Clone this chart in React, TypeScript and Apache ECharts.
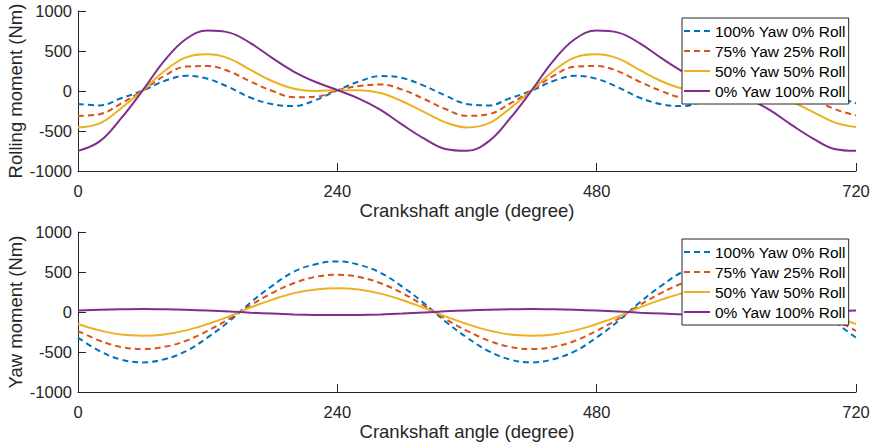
import React, { useEffect, useRef } from "react";
import * as echarts from "echarts";

// Crankshaft angle (degree), sampled every 20 degrees
const angles = [
  0, 20, 40, 60, 80, 100, 120, 140, 160, 180, 200, 220, 240, 260, 280, 300, 320, 340, 360,
  380, 400, 420, 440, 460, 480, 500, 520, 540, 560, 580, 600, 620, 640, 660, 680, 700, 720,
];

const seriesNames = ["100% Yaw 0% Roll", "75% Yaw 25% Roll", "50% Yaw 50% Roll", "0% Yaw 100% Roll"];

// Rolling moment (Nm)
const rollYaw100 = [
  -162, -180, -90, 5, 125, 190, 152, 45, -85, -165, -188, -112, 8, 118, 186, 163, 68, -58, -162,
  -180, -90, 5, 125, 190, 152, 45, -85, -165, -188, -112, 8, 118, 186, 163, 68, -58, -155,
];
const rollYaw75 = [
  -310, -290, -155, 7, 190, 305, 312, 245, 115, 0, -78, -72, 8, 62, 81, 17, -98, -225, -310,
  -290, -155, 7, 190, 305, 312, 245, 115, 0, -78, -72, 8, 62, 81, 17, -98, -225, -305,
];
const rollYaw50 = [
  -455, -405, -215, 8, 250, 420, 458, 405, 260, 122, 28, 0, 10, 10, -25, -128, -260, -392, -455,
  -405, -215, 8, 250, 420, 458, 405, 260, 122, 28, 0, 10, 10, -25, -128, -260, -392, -450,
];
const rollYaw0 = [
  -748, -630, -340, 10, 380, 650, 755, 730, 595, 410, 240, 112, 12, -95, -235, -420, -592, -725, -748,
  -630, -340, 10, 380, 650, 755, 730, 595, 410, 240, 112, 12, -95, -235, -420, -592, -725, -748,
];

// Yaw moment (Nm)
const yawYaw100 = [
  -320, -488, -595, -630, -590, -490, -318, -115, 122, 330, 505, 598, 632, 590, 490, 318, 112, -118, -320,
  -488, -595, -630, -590, -490, -318, -115, 122, 330, 505, 598, 632, 590, 490, 318, 112, -118, -320,
];
const yawYaw75 = [
  -235, -358, -437, -463, -436, -360, -235, -85, 88, 240, 362, 440, 465, 438, 360, 236, 82, -86, -235,
  -358, -437, -463, -436, -360, -235, -85, 88, 240, 362, 440, 465, 438, 360, 236, 82, -86, -235,
];
const yawYaw50 = [
  -150, -230, -282, -296, -280, -230, -150, -55, 58, 155, 236, 282, 298, 280, 230, 150, 52, -55, -150,
  -230, -282, -296, -280, -230, -150, -55, 58, 155, 236, 282, 298, 280, 230, 150, 52, -55, -150,
];
const yawYaw0 = [
  20, 28, 35, 38, 35, 28, 18, 6, -8, -20, -30, -36, -38, -36, -30, -20, -6, 8, 20,
  28, 35, 38, 35, 28, 18, 6, -8, -20, -30, -36, -38, -36, -30, -20, -6, 8, 20,
];

const xTickInterval = 240;
const yTickInterval = 500;

const FONT = "'Liberation Sans', Arial, Helvetica, sans-serif";
const AXIS_COLOR = "#262626";
const colors = ["#0072BD", "#D95319", "#EDB120", "#7E2F8E"];
const dashed = [true, true, false, false];

function pairs(values: number[]) {
  return angles.map((a, i) => [a, values[i]]);
}

export default function App() {
  const ref = useRef<HTMLDivElement>(null);

  useEffect(() => {
    if (!ref.current) return;
    const chart = echarts.init(ref.current, null, { renderer: "svg" });

    const grids = [
      { left: 78, top: 11, width: 778, height: 160, outerBoundsMode: "none", containLabel: false },
      { left: 78, top: 232, width: 778, height: 160, outerBoundsMode: "none", containLabel: false },
    ];

    const xAxisBase = (gridIndex: number) => ({
      type: "value",
      gridIndex,
      min: 0,
      max: 720,
      interval: xTickInterval,
      name: "Crankshaft angle (degree)",
      nameLocation: "middle",
      nameGap: 30,
      nameTextStyle: { fontSize: 18.5, color: AXIS_COLOR, fontFamily: FONT },
      axisLine: { onZero: false, lineStyle: { color: AXIS_COLOR, width: 1 } },
      axisTick: { inside: true, length: 8, lineStyle: { color: AXIS_COLOR } },
      axisLabel: { fontSize: 16.5, color: AXIS_COLOR, fontFamily: FONT, margin: 11 },
      splitLine: { show: false },
    });

    const yAxisBase = (gridIndex: number, name: string) => ({
      type: "value",
      gridIndex,
      min: -1000,
      max: 1000,
      interval: yTickInterval,
      name,
      nameLocation: "middle",
      nameGap: 53,
      nameMoveOverlap: false,
      nameTextStyle: { fontSize: 18.5, color: AXIS_COLOR, fontFamily: FONT },
      axisLine: { onZero: false, lineStyle: { color: AXIS_COLOR, width: 1 } },
      axisTick: { inside: true, length: 8, lineStyle: { color: AXIS_COLOR } },
      axisLabel: {
        fontSize: 16.5,
        color: AXIS_COLOR,
        fontFamily: FONT,
        margin: 6,
        formatter: (v: number) => String(v),
      },
      splitLine: { show: false },
    });

    const topData = [rollYaw100, rollYaw75, rollYaw50, rollYaw0];
    const bottomData = [yawYaw100, yawYaw75, yawYaw50, yawYaw0];

    const makeSeries = (data: number[][], idx: number) =>
      data.map((vals, i) => ({
        type: "line",
        name: seriesNames[i],
        xAxisIndex: idx,
        yAxisIndex: idx,
        data: pairs(vals),
        smooth: 0.4,
        symbol: "none",
        showSymbol: false,
        lineStyle: {
          color: colors[i],
          width: 2,
          type: dashed[i] ? [6, 4] : "solid",
        },
        itemStyle: { color: colors[i] },
        z: 2 + i,
      }));

    const legendBase = (top: number) => ({
      orient: "vertical",
      left: 682,
      top,
      data: seriesNames,
      itemWidth: 26,
      itemHeight: 14,
      itemGap: 4,
      padding: [5, 3, 5, 1],
      borderColor: AXIS_COLOR,
      borderWidth: 1,
      backgroundColor: "#ffffff",
      selectedMode: false,
      itemStyle: { color: "rgba(0,0,0,0)", borderWidth: 0, opacity: 0 },
      textStyle: { fontSize: 15.5, color: "#000", fontFamily: FONT },
      z: 10,
    });

    chart.setOption({
      animation: false,
      backgroundColor: "#ffffff",
      textStyle: { fontFamily: FONT },
      grid: grids,
      xAxis: [xAxisBase(0), xAxisBase(1)],
      yAxis: [yAxisBase(0, "Rolling moment (Nm)"), yAxisBase(1, "Yaw moment (Nm)")],
      legend: [legendBase(18), legendBase(239)],
      series: [...makeSeries(topData, 0), ...makeSeries(bottomData, 1)],
    });

    return () => chart.dispose();
  }, []);

  return (
    <div
      ref={ref}
      style={{ position: "fixed", left: 0, top: 0, width: 875, height: 447, background: "#fff" }}
    />
  );
}
